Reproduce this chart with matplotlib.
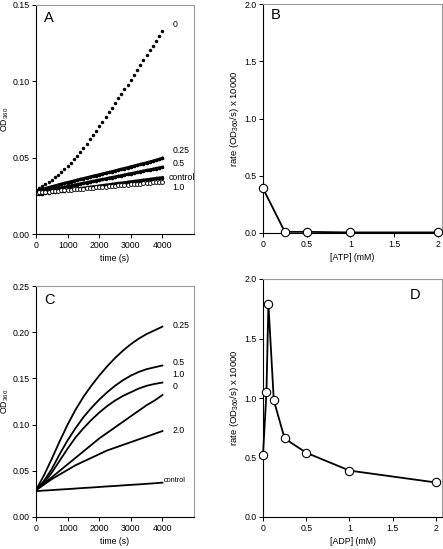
import numpy as np
import matplotlib
matplotlib.use("Agg")
import matplotlib.pyplot as plt

plt.rcParams['font.family'] = ['Liberation Sans', 'DejaVu Sans']
plt.rcParams['font.size'] = 6.3
plt.rcParams['mathtext.default'] = 'regular'

# --- panel A: OD360 vs time, ATP series (every 100 s) ---
t_a = np.arange(0, 4001, 100)
a_0 = [0.0290, 0.0301, 0.0313, 0.0326, 0.0340, 0.0355, 0.0371, 0.0388, 0.0406, 0.0425, 0.0445,
       0.0467, 0.0490, 0.0514, 0.0539, 0.0565, 0.0592, 0.0620, 0.0648, 0.0676, 0.0705,
       0.0735, 0.0766, 0.0796, 0.0827, 0.0857, 0.0888, 0.0918, 0.0949, 0.0979, 0.1010,
       0.1042, 0.1074, 0.1106, 0.1138, 0.1170, 0.1202, 0.1234, 0.1266, 0.1298, 0.1330]
a_025 = [0.0280, 0.0286, 0.0292, 0.0298, 0.0304, 0.0310, 0.0315, 0.0321, 0.0326, 0.0332, 0.0337,
         0.0342, 0.0347, 0.0353, 0.0358, 0.0363, 0.0368, 0.0373, 0.0378, 0.0383, 0.0388,
         0.0393, 0.0398, 0.0403, 0.0408, 0.0413, 0.0419, 0.0424, 0.0429, 0.0434, 0.0440,
         0.0445, 0.0450, 0.0456, 0.0461, 0.0466, 0.0472, 0.0477, 0.0483, 0.0489, 0.0496]
a_05 = [0.0270, 0.0274, 0.0279, 0.0283, 0.0287, 0.0291, 0.0295, 0.0299, 0.0303, 0.0307, 0.0311,
        0.0315, 0.0319, 0.0324, 0.0328, 0.0332, 0.0336, 0.0340, 0.0345, 0.0349, 0.0353,
        0.0357, 0.0361, 0.0366, 0.0370, 0.0374, 0.0378, 0.0382, 0.0387, 0.0391, 0.0395,
        0.0399, 0.0403, 0.0408, 0.0412, 0.0416, 0.0420, 0.0424, 0.0429, 0.0433, 0.0437]
a_ctrl = [0.0260, 0.0263, 0.0265, 0.0268, 0.0271, 0.0273, 0.0276, 0.0279, 0.0281, 0.0284, 0.0287,
          0.0289, 0.0292, 0.0295, 0.0298, 0.0300, 0.0303, 0.0306, 0.0309, 0.0311, 0.0314,
          0.0317, 0.0320, 0.0322, 0.0325, 0.0328, 0.0331, 0.0333, 0.0336, 0.0339, 0.0342,
          0.0344, 0.0347, 0.0350, 0.0353, 0.0355, 0.0358, 0.0361, 0.0364, 0.0366, 0.0369]
a_10 = [0.0270, 0.0272, 0.0274, 0.0276, 0.0278, 0.0280, 0.0281, 0.0283, 0.0285, 0.0287, 0.0289,
        0.0291, 0.0292, 0.0294, 0.0296, 0.0298, 0.0300, 0.0302, 0.0303, 0.0305, 0.0307,
        0.0309, 0.0311, 0.0312, 0.0314, 0.0316, 0.0318, 0.0320, 0.0321, 0.0323, 0.0325,
        0.0327, 0.0329, 0.0330, 0.0332, 0.0334, 0.0336, 0.0338, 0.0339, 0.0341, 0.0343]

# --- panel B: rate vs ATP ---
atp = [0, 0.25, 0.5, 1, 2]
rate_atp = [0.39, 0.01, 0.01, 0.005, 0.005]

# --- panel C: OD360 vs time, ADP series (every 250 s) ---
t_c = np.arange(0, 4001, 250)
c_025 = [0.029, 0.045, 0.063, 0.082, 0.100, 0.116, 0.130, 0.142, 0.153,
         0.163, 0.172, 0.180, 0.187, 0.193, 0.198, 0.202, 0.206]
c_05 = [0.029, 0.039, 0.052, 0.068, 0.083, 0.096, 0.108, 0.118, 0.127,
        0.135, 0.142, 0.148, 0.153, 0.157, 0.160, 0.162, 0.164]
c_10 = [0.029, 0.037, 0.048, 0.061, 0.074, 0.086, 0.096, 0.105, 0.113,
        0.120, 0.126, 0.131, 0.135, 0.139, 0.142, 0.144, 0.1455]
c_0 = [0.029, 0.036, 0.043, 0.050, 0.057, 0.064, 0.071, 0.078, 0.085,
       0.091, 0.097, 0.103, 0.109, 0.115, 0.121, 0.126, 0.132]
c_20 = [0.029, 0.035, 0.041, 0.046, 0.051, 0.056, 0.060, 0.064, 0.068,
        0.072, 0.075, 0.078, 0.081, 0.084, 0.087, 0.090, 0.093]
c_ctrl = [0.028, 0.0286, 0.0291, 0.0297, 0.0302, 0.0308, 0.0314, 0.0319, 0.0325,
          0.0331, 0.0336, 0.0342, 0.0348, 0.0353, 0.0359, 0.0365, 0.0372]

# --- panel D: rate vs ADP ---
adp = [0, 0.04, 0.0625, 0.125, 0.25, 0.5, 1, 2]
rate_adp = [0.52, 1.05, 1.79, 0.98, 0.66, 0.54, 0.39, 0.29]

W, H = 443, 549
fig = plt.figure(figsize=(W / 100, H / 100), dpi=100)


def box(l, t, r, b):
    return [l / W, 1 - b / H, (r - l) / W, (b - t) / H]


def style(ax):
    for s in ['top', 'right']:
        ax.spines[s].set_color('#9a9a9a')
        ax.spines[s].set_linewidth(0.8)
    for s in ['left', 'bottom']:
        ax.spines[s].set_color('black')
        ax.spines[s].set_linewidth(0.8)
    ax.tick_params(direction='out', length=3, width=0.7, pad=1.8, top=False, right=False)


axA = fig.add_axes(box(36, 5, 194, 234))
axB = fig.add_axes(box(263, 4, 442, 233))
axC = fig.add_axes(box(36, 286, 194, 517))
axD = fig.add_axes(box(263, 279, 442, 517))

# A
axA.plot(t_a, a_0, 'o', color='black', ms=2.5, mew=0)
axA.plot(t_a, a_025, 'o-', color='black', ms=2.6, mew=0, lw=2.2)
axA.plot(t_a, a_05, 'o-', color='black', ms=2.6, mew=0, lw=2.2)
axA.plot(t_a, a_ctrl, 'o-', color='black', ms=2.6, mew=0, lw=2.2)
axA.plot(t_a, a_10, 'o', color='black', mfc='white', ms=2.8, mew=0.6)
axA.set_xlim(0, 5000)
axA.set_ylim(0, 0.15)
axA.set_xticks([0, 1000, 2000, 3000, 4000])
axA.set_yticks([0, 0.05, 0.10, 0.15])
axA.set_yticklabels(['0.00', '0.05', '0.10', '0.15'])
axA.set_xlabel('time (s)', labelpad=3)
axA.set_ylabel('OD$_{360}$', labelpad=1)
for txt, y in [('0', 0.137), ('0.25', 0.0544), ('0.5', 0.0459), ('1.0', 0.0303)]:
    axA.text(4310, y, txt, va='center', ha='left')
axA.text(4190, 0.0371, 'control', va='center', ha='left')
axA.text(0.05, 0.945, 'A', transform=axA.transAxes, fontsize=10.5, va='center', ha='left')
style(axA)

# B
axB.plot(atp, rate_atp, '-o', color='black', lw=1.3, ms=6, mfc='white', mec='black', mew=0.8,
         clip_on=False, zorder=5)
axB.set_xlim(0, 2.05)
axB.set_ylim(0, 2.0)
axB.set_xticks([0, 0.5, 1, 1.5, 2])
axB.set_xticklabels(['0', '0.5', '1', '1.5', '2'])
axB.set_yticks([0, 0.5, 1.0, 1.5, 2.0])
axB.set_yticklabels(['0.0', '0.5', '1.0', '1.5', '2.0'])
axB.set_xlabel('[ATP] (mM)', labelpad=3)
axB.set_ylabel('rate (OD$_{360}$/s) x 10000', labelpad=2, fontsize=6.8)
axB.text(0.045, 0.952, 'B', transform=axB.transAxes, fontsize=10.5, va='center', ha='left')
style(axB)

# C
for ys in [c_025, c_05, c_10, c_0, c_20, c_ctrl]:
    axC.plot(t_c, ys, '-', color='black', lw=1.3)
axC.set_xlim(0, 5000)
axC.set_ylim(0, 0.25)
axC.set_xticks([0, 1000, 2000, 3000, 4000])
axC.set_yticks([0, 0.05, 0.10, 0.15, 0.20, 0.25])
axC.set_yticklabels(['0.00', '0.05', '0.10', '0.15', '0.20', '0.25'])
axC.set_xlabel('time (s)', labelpad=3)
axC.set_ylabel('OD$_{360}$', labelpad=1)
for txt, y in [('0.25', 0.2075), ('0.5', 0.167), ('1.0', 0.1544), ('0', 0.1407), ('2.0', 0.0938)]:
    axC.text(4310, y, txt, va='center', ha='left')
axC.text(4050, 0.0397, 'control', va='center', ha='left', fontsize=5.3)
axC.text(0.055, 0.94, 'C', transform=axC.transAxes, fontsize=10.5, va='center', ha='left')
style(axC)

# D
axD.plot(adp, rate_adp, '-o', color='black', lw=1.3, ms=6, mfc='white', mec='black', mew=0.8,
         clip_on=False, zorder=5)
axD.set_xlim(0, 2.07)
axD.set_ylim(0, 2.0)
axD.set_xticks([0, 0.5, 1, 1.5, 2])
axD.set_xticklabels(['0', '0.5', '1', '1.5', '2'])
axD.set_yticks([0, 0.5, 1.0, 1.5, 2.0])
axD.set_yticklabels(['0.0', '0.5', '1.0', '1.5', '2.0'])
axD.set_xlabel('[ADP] (mM)', labelpad=3)
axD.set_ylabel('rate (OD$_{360}$/s) x 10000', labelpad=2, fontsize=6.8)
axD.text(0.85, 0.933, 'D', transform=axD.transAxes, fontsize=10.5, va='center', ha='center')
style(axD)

fig.savefig('out.png', dpi=100)
